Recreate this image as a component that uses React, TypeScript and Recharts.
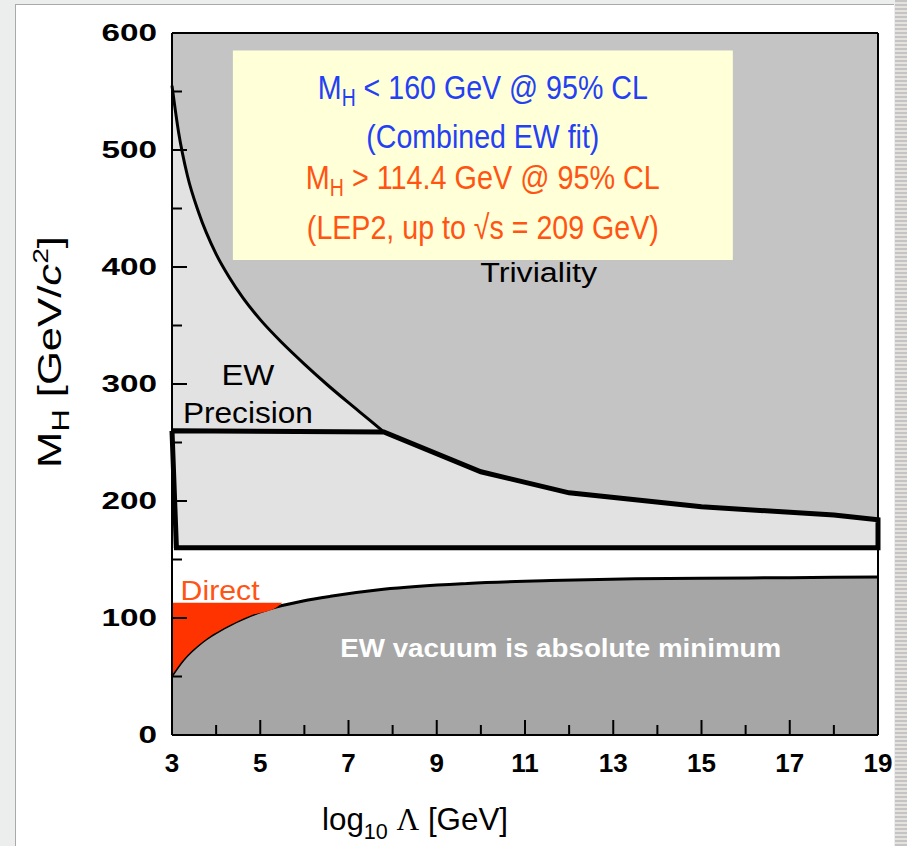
import {
  Area,
  ComposedChart,
  Label,
  Line,
  ReferenceArea,
  ReferenceDot,
  XAxis,
  YAxis,
} from "recharts"

// triviality bound (curved part up to ~7.8, then follows the EW band edge)
const trivialityX = [3.0, 3.15, 3.35, 3.6, 4.0, 4.3, 4.6, 5.0, 5.5, 6.0, 6.5, 7.0, 7.5, 7.8, 10, 12, 15, 18, 19]
const trivialityMH = [555, 515, 478, 447, 411, 391, 374, 355, 335, 317, 300, 284, 268.5, 259, 225, 207, 195, 188, 184]

// vacuum stability bound
const stabilityX = [3.0, 3.25, 3.7, 4.16, 4.77, 5.38, 5.97, 6.59, 7.79, 9.7, 11.58, 13.5, 15, 17, 19]
const stabilityMH = [51, 64, 80, 91, 102, 109.5, 114.5, 118.5, 124.5, 129.5, 132, 133.5, 134, 134.5, 135]

// direct search exclusion (red)
const directX = [3.0, 3.25, 3.7, 4.16, 4.77, 5.38, 5.5]
const directLow = [51, 64, 80, 91, 102, 109.5, 113]
const directLimit = 113

// EW precision outline
const ewBoxX = [3.0, 7.8, 10, 12, 15, 18, 19, 19, 3.1, 3.0]
const ewBoxMH = [260, 259, 225, 207, 195, 188, 184, 160, 160, 260]
const ewFloor = 160

const xDomain = [3, 19]
const mhMax = 600
const xTicks = [3, 4, 5, 6, 7, 8, 9, 10, 11, 12, 13, 14, 15, 16, 17, 18, 19]
const xTickLabels = [3, 5, 7, 9, 11, 13, 15, 17, 19]
const yTicks = [0, 50, 100, 150, 200, 250, 300, 350, 400, 450, 500, 550, 600]
const yTickLabels = [0, 100, 200, 300, 400, 500, 600]

const bandRows = trivialityX.map((x, i) => ({ x, band: [ewFloor, trivialityMH[i]], mh: trivialityMH[i] }))
const curveRows = bandRows.filter((r) => r.x <= 7.8)
const backRows = xDomain.map((x) => ({ x, band: [ewFloor, mhMax] }))
const stabilityRows = stabilityX.map((x, i) => ({ x, mh: stabilityMH[i] }))
const directRows = directX.map((x, i) => ({ x, band: [directLow[i], directLimit] }))
const ewBoxRows = ewBoxX.map((x, i) => ({ x, mh: ewBoxMH[i] }))

const SANS = "'Liberation Sans', Arial, Helvetica, sans-serif"
const BLUE = "#2340f5"
const ORANGE = "#ff5412"

function BottomTick(props: any) {
  const { x, y, payload } = props
  const major = xTickLabels.includes(payload.value)
  return (
    <g>
      <line x1={x} x2={x} y1={y} y2={y - (major ? 15 : 10)} stroke="#000" strokeWidth={2} />
      {major && (
        <text x={x} y={y + 37} textAnchor="middle" fontFamily={SANS} fontWeight="bold" fontSize={26} fill="#000">
          {payload.value}
        </text>
      )}
    </g>
  )
}

function TopTick(props: any) {
  const { x, y } = props
  return <line x1={x} x2={x} y1={y} y2={y + 12} stroke="#000" strokeWidth={2} />
}

function LeftTick(props: any) {
  const { x, y, payload } = props
  const major = yTickLabels.includes(payload.value)
  const s = String(payload.value)
  return (
    <g>
      <line x1={x} x2={x + (major ? 15 : 10)} y1={y} y2={y} stroke="#000" strokeWidth={2} />
      {major && (
        <text
          x={x - 15}
          y={y + 8}
          textAnchor="end"
          fontFamily={SANS}
          fontWeight="bold"
          fontSize={23}
          fill="#000"
          textLength={s.length * 18.5}
          lengthAdjust="spacingAndGlyphs"
        >
          {s}
        </text>
      )}
    </g>
  )
}

function RightTick(props: any) {
  const { x, y } = props
  return <line x1={x} x2={x - 12} y1={y} y2={y} stroke="#000" strokeWidth={2} />
}

function Note(props: any) {
  const { viewBox, noteText, noteColor, noteSize, noteWeight, noteLen } = props
  const x = viewBox.x + viewBox.width / 2
  const y = viewBox.y + viewBox.height / 2
  return (
    <text
      x={x}
      y={y}
      textAnchor="middle"
      fontFamily={SANS}
      fontSize={noteSize}
      fontWeight={noteWeight || "normal"}
      fill={noteColor}
      textLength={noteLen}
      lengthAdjust="spacingAndGlyphs"
    >
      {noteText}
    </text>
  )
}

function BoxText(props: any) {
  const { viewBox } = props
  const cx = viewBox.x + viewBox.width / 2
  const top = viewBox.y
  const common = {
    x: cx,
    textAnchor: "middle" as const,
    fontFamily: SANS,
    fontSize: 34,
    lengthAdjust: "spacingAndGlyphs",
  }
  return (
    <g>
      <text {...common} y={top + 48} fill={BLUE} textLength={330}>
        M<tspan fontSize={23} dy={7}>H</tspan>
        <tspan dy={-7}>{" < 160 GeV @ 95% CL"}</tspan>
      </text>
      <text {...common} y={top + 97} fill={BLUE} textLength={233}>
        (Combined EW fit)
      </text>
      <text {...common} y={top + 138} fill={ORANGE} textLength={354}>
        M<tspan fontSize={23} dy={7}>H</tspan>
        <tspan dy={-7}>{" > 114.4 GeV @ 95% CL"}</tspan>
      </text>
      <text {...common} y={top + 188} fill={ORANGE} textLength={352}>
        (LEP2, up to √s = 209 GeV)
      </text>
    </g>
  )
}

function YTitle() {
  return (
    <text
      transform="translate(61,352) rotate(-90)"
      textAnchor="middle"
      fontFamily={SANS}
      fontSize={34}
      fill="#000"
      textLength={232}
      lengthAdjust="spacingAndGlyphs"
    >
      M<tspan fontSize={24} dy={8}>H</tspan>
      <tspan dy={-8}>{" [GeV/"}</tspan>
      <tspan fontStyle="italic">c</tspan>
      <tspan fontSize={22} dy={-13}>2</tspan>
      <tspan dy={13}>]</tspan>
    </text>
  )
}

function XTitle() {
  return (
    <text x={415} y={830} textAnchor="middle" fontFamily={SANS} fontSize={32} fill="#000" textLength={186} lengthAdjust="spacingAndGlyphs">
      log<tspan fontSize={22} dy={9}>10</tspan>
      <tspan dy={-9}> </tspan>
      <tspan fontFamily="'Liberation Serif', 'DejaVu Serif', serif">Λ</tspan>
      <tspan>{" [GeV]"}</tspan>
    </text>
  )
}

export default function App() {
  return (
    <div style={{ position: "absolute", left: 0, top: 0, width: 907, height: 846, background: "#eceeed", overflow: "hidden" }}>
      <div
        style={{
          position: "absolute",
          left: 15,
          top: 4,
          width: 878,
          height: 860,
          background: "#fff",
          borderLeft: "1px solid #a9a9a9",
          borderTop: "1px solid #a9a9a9",
        }}
      />
      <div
        style={{
          position: "absolute",
          left: 895,
          top: 0,
          width: 12,
          height: 846,
          background: "repeating-linear-gradient(0deg, #c4c4c4 0px, #c4c4c4 2px, #e6e3df 2px, #e6e3df 4px)",
        }}
      />
      <div style={{ position: "absolute", left: 0, top: 0 }}>
        <ComposedChart width={907} height={846} margin={{ top: 28, right: 24, bottom: 61, left: 112 }}>
          <XAxis
            xAxisId={0}
            type="number"
            dataKey="x"
            domain={xDomain}
            ticks={xTicks}
            interval={0}
            height={50}
            tickSize={0}
            tickMargin={0}
            tick={<BottomTick />}
            tickLine={false}
            axisLine={{ stroke: "#000", strokeWidth: 2 }}
          >
            <Label content={<XTitle />} />
          </XAxis>
          <XAxis
            xAxisId="top"
            orientation="top"
            type="number"
            dataKey="x"
            domain={xDomain}
            ticks={xTicks}
            interval={0}
            height={5}
            tickSize={0}
            tickMargin={0}
            tick={<TopTick />}
            tickLine={false}
            axisLine={{ stroke: "#000", strokeWidth: 2 }}
          />
          <YAxis
            yAxisId={0}
            type="number"
            domain={[0, mhMax]}
            ticks={yTicks}
            interval={0}
            width={60}
            tickSize={0}
            tickMargin={0}
            tick={<LeftTick />}
            tickLine={false}
            axisLine={{ stroke: "#000", strokeWidth: 2 }}
          >
            <Label content={<YTitle />} />
          </YAxis>
          <YAxis
            yAxisId="right"
            orientation="right"
            type="number"
            domain={[0, mhMax]}
            ticks={yTicks}
            interval={0}
            width={5}
            tickSize={0}
            tickMargin={0}
            tick={<RightTick />}
            tickLine={false}
            axisLine={{ stroke: "#000", strokeWidth: 2 }}
          />

          {/* triviality excluded region (background) */}
          <Area data={backRows} dataKey="band" type="linear" fill="#c4c4c4" fillOpacity={1} stroke="none" isAnimationActive={false} />
          {/* allowed band below triviality */}
          <Area data={bandRows} dataKey="band" type="linear" fill="#e2e2e2" fillOpacity={1} stroke="none" isAnimationActive={false} />
          {/* vacuum stability */}
          <Area
            data={stabilityRows}
            dataKey="mh"
            type="monotone"
            baseValue={0}
            fill="#a6a6a6"
            fillOpacity={1}
            stroke="#000"
            strokeWidth={3}
            isAnimationActive={false}
          />
          {/* direct search */}
          <Area data={directRows} dataKey="band" type="monotone" fill="#ff3300" fillOpacity={1} stroke="none" isAnimationActive={false} />
          <Line data={curveRows} dataKey="mh" type="monotone" stroke="#000" strokeWidth={3} dot={false} isAnimationActive={false} />
          <Line
            data={ewBoxRows}
            dataKey="mh"
            type="linear"
            stroke="#000"
            strokeWidth={5}
            strokeLinejoin="miter"
            dot={false}
            isAnimationActive={false}
          />

          <ReferenceArea x1={4.38} x2={15.71} y1={406} y2={585} fill="#ffffd8" fillOpacity={1} stroke="none" label={<BoxText />} />

          <ReferenceDot x={11.31} y={387} r={0} fill="none" stroke="none"
            label={<Note noteText="Triviality" noteColor="#000" noteSize={27} noteLen={117} />} />
          <ReferenceDot x={4.72} y={299} r={0} fill="none" stroke="none"
            label={<Note noteText="EW" noteColor="#000" noteSize={29} noteLen={53} />} />
          <ReferenceDot x={4.72} y={267} r={0} fill="none" stroke="none"
            label={<Note noteText="Precision" noteColor="#000" noteSize={29} noteLen={130} />} />
          <ReferenceDot x={4.09} y={115} r={0} fill="none" stroke="none"
            label={<Note noteText="Direct" noteColor={ORANGE} noteSize={28} noteLen={79} />} />
          <ReferenceDot x={11.81} y={67} r={0} fill="none" stroke="none"
            label={<Note noteText="EW vacuum is absolute minimum" noteColor="#fff" noteSize={25} noteWeight="bold" noteLen={441} />} />
        </ComposedChart>
      </div>
    </div>
  )
}
